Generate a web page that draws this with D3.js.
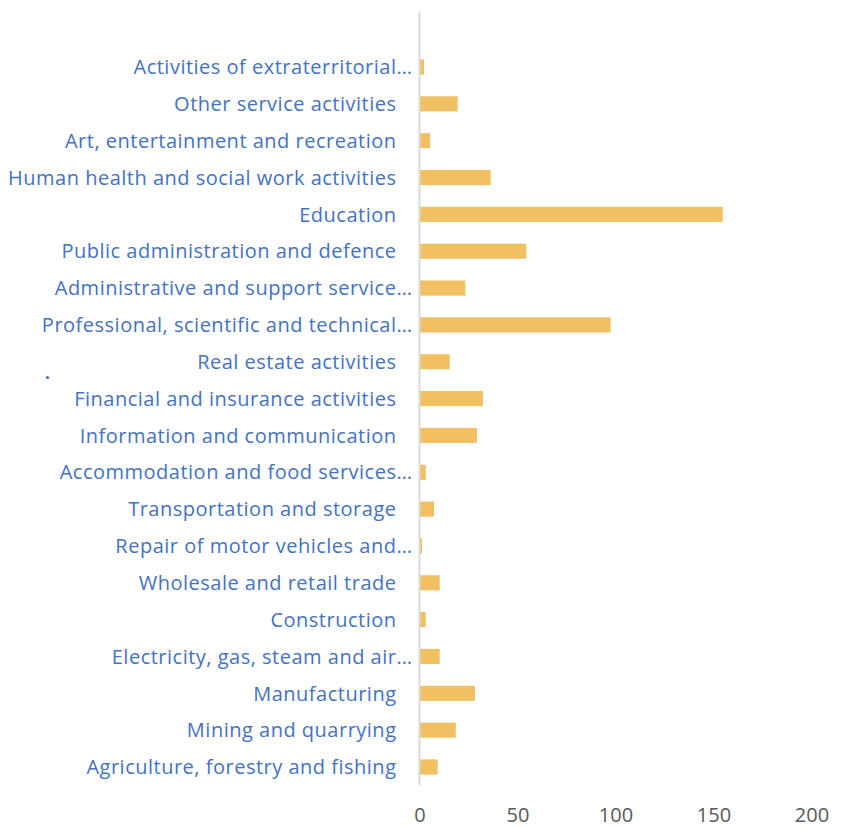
<!DOCTYPE html>
<html>
<head>
<meta charset="utf-8">
<script src="https://cdn.jsdelivr.net/npm/d3@7/dist/d3.min.js"></script>
<style>
  html, body { margin: 0; padding: 0; background: #fff; }
  svg { display: block; }
</style>
</head>
<body>
<svg id="chart" width="845" height="827"></svg>
<script>
// Categories listed bottom to top
const categories = [
  "Agriculture, forestry and fishing",
  "Mining and quarrying",
  "Manufacturing",
  "Electricity, gas, steam and air…",
  "Construction",
  "Wholesale and retail trade",
  "Repair of motor vehicles and…",
  "Transportation and storage",
  "Accommodation and food services…",
  "Information and communication",
  "Financial and insurance activities",
  "Real estate activities",
  "Professional, scientific and technical…",
  "Administrative and support service…",
  "Public administration and defence",
  "Education",
  "Human health and social work activities",
  "Art, entertainment and recreation",
  "Other service activities",
  "Activities of extraterritorial…"
];
const values = [9.3, 18.5, 28.3, 10.3, 3.2, 10.3, 1.3, 7.4, 3.2, 29.3,
                32.4, 15.4, 97.5, 23.4, 54.5, 154.7, 36.3, 5.4, 19.5, 2.3];
const xTicks = [0, 50, 100, 150, 200];

const svg = d3.select("#chart");
const font = "'Open Sans', sans-serif";

const x = d3.scaleLinear().domain([0, 200]).range([419.5, 811.5]);
const y = d3.scaleBand().domain(categories).range([785.4, 48.6]).paddingInner(0.59).paddingOuter(0.295);

// bars
svg.append("g").selectAll("rect")
  .data(categories)
  .join("rect")
  .attr("x", x(0))
  .attr("y", (d) => y(d))
  .attr("width", (d, i) => x(values[i]) - x(0))
  .attr("height", y.bandwidth())
  .attr("fill", "#F1C062");

// vertical category axis line (extends one empty step above the top bar)
svg.append("line")
  .attr("x1", x(0)).attr("x2", x(0))
  .attr("y1", y.range()[1] - y.step()).attr("y2", y.range()[0])
  .attr("stroke", "#D9D9D9").attr("stroke-width", 2);

// category labels; shortened labels let their ellipsis hang past the right edge
const yAxis = d3.axisLeft(y).tickSize(0).tickPadding(23);
const gy = svg.append("g").attr("transform", `translate(${x(0)},0)`).call(yAxis);
gy.select(".domain").remove();
gy.selectAll("text")
  .attr("fill", "#4472C4")
  .attr("dy", "0.36em")
  .attr("dx", (d) => d.endsWith("…") ? 16 : 0)
  .style("font-family", font)
  .style("font-size", "20px")
  .style("letter-spacing", "0.5px");

// value axis labels
const xAxis = d3.axisBottom(x).tickValues(xTicks).tickSize(0).tickPadding(0);
const gx = svg.append("g").attr("transform", "translate(0,808)").call(xAxis);
gx.select(".domain").remove();
gx.selectAll("text")
  .attr("fill", "#595959")
  .style("font-family", font)
  .style("font-size", "20px");

// stray legend marker
svg.append("circle").attr("cx", 47.5).attr("cy", 377.5).attr("r", 1.6).attr("fill", "#4472C4");
</script>
</body>
</html>
